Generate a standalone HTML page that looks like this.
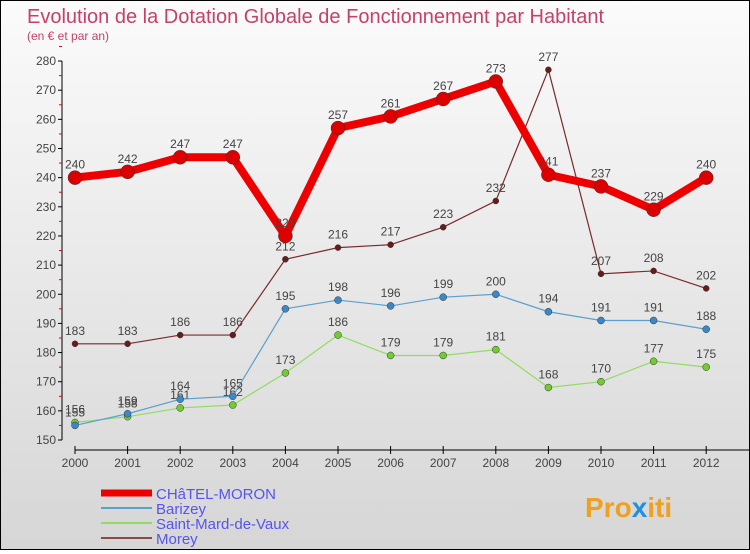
<!DOCTYPE html>
<html><head><meta charset="utf-8"><style>
body{margin:0}
#c{width:748px;height:548px;border:1px solid #000;background:linear-gradient(#fbfbfb,#d6d6d6);position:relative;font-family:"Liberation Sans",sans-serif}
svg text{font-family:"Liberation Sans",sans-serif}
</style></head><body>
<div id="c">
<svg id="s" width="748" height="548">
<text x="26" y="22" font-size="20" fill="#c8406a">Evolution de la Dotation Globale de Fonctionnement par Habitant</text>
<text x="26" y="39" font-size="12" fill="#c8406a">(en € et par an)</text>
<g id="g"></g>
<text x="584" y="516" font-size="28" font-weight="bold" fill="#f0a020">Pro<tspan fill="#2090e0">x</tspan>iti</text>
</svg></div>
<script>
const years=["2000","2001","2002","2003","2004","2005","2006","2007","2008","2009","2010","2011","2012"];
const yTicks=[150,160,170,180,190,200,210,220,230,240,250,260,270,280];
const chatel=[240,242,247,247,220,257,261,267,273,241,237,229,240];
const barizey=[155,159,164,165,195,198,196,199,200,194,191,191,188];
const saintMard=[156,158,161,162,173,186,179,179,181,168,170,177,175];
const morey=[183,183,186,186,212,216,217,223,232,277,207,208,202];
const NS="http://www.w3.org/2000/svg";
const g=document.getElementById('g');
const X=i=>74+i*52.6, Y=v=>439-(v-150)*2.915;
function el(t,a,p){const e=document.createElementNS(NS,t);for(const k in a)e.setAttribute(k,a[k]);(p||g).appendChild(e);return e;}
let ax=el('line',{x1:61,y1:Y(280),x2:61,y2:Y(150),stroke:'#000'});

yTicks.forEach(v=>{el('line',{x1:57,x2:61,y1:Y(v),y2:Y(v),stroke:'#000'});
 el('line',{x1:58,x2:61,y1:Y(v+5),y2:Y(v+5),stroke:'#e00'});
 const t=el('text',{x:55,y:Y(v)+4,'font-size':12,fill:'#444','text-anchor':'end'});t.textContent=v;
 });
let xa=el('line',{x1:X(0),y1:449,x2:748,y2:449,stroke:'#000'});

years.forEach((y,i)=>{el('line',{x1:X(i),x2:X(i),y1:445,y2:453,stroke:'#000'});
 const t=el('text',{x:X(i),y:466,'font-size':12,fill:'#444','text-anchor':'middle'});t.textContent=y;
 });
const series=[[morey,'#7a2a2a','#6a1a1a',1.2,3,'morey'],[saintMard,'#90dd60','#70cc30',1.2,3.5,'saint-mard'],[barizey,'#5aa0d0','#3a88c8',1.2,3.5,'barizey'],[chatel,'#ee0000','#dd0000',8,7,'chatel-moron']];
series.forEach(([d,c,mc,w,r,n])=>{
 const l=el('polyline',{points:d.map((v,i)=>X(i)+','+Y(v)).join(' '),fill:'none',stroke:c,'stroke-width':w});
 
 d.forEach((v,i)=>{const p=el('circle',{cx:X(i),cy:Y(v),r:r,fill:mc,stroke:'#333','stroke-width':0.5});
  
  const t=el('text',{x:X(i),y:Y(v)-9,'font-size':12,fill:'#444','text-anchor':'middle'});t.textContent=v;
  });
});
const leg=[['CHâTEL-MORON','#ee0000',7],['Barizey','#5aa0d0',2],['Saint-Mard-de-Vaux','#90dd60',2],['Morey','#8a4a4a',2]];
leg.forEach(([n,c,w],i)=>{const y=492+i*15;
 el('line',{x1:100,x2:151,y1:y,y2:y,stroke:c,'stroke-width':w});
 const t=el('text',{x:155,y:y+6,'font-size':15,fill:'#5555ee'});t.textContent=n;
 });
</script></body></html>
